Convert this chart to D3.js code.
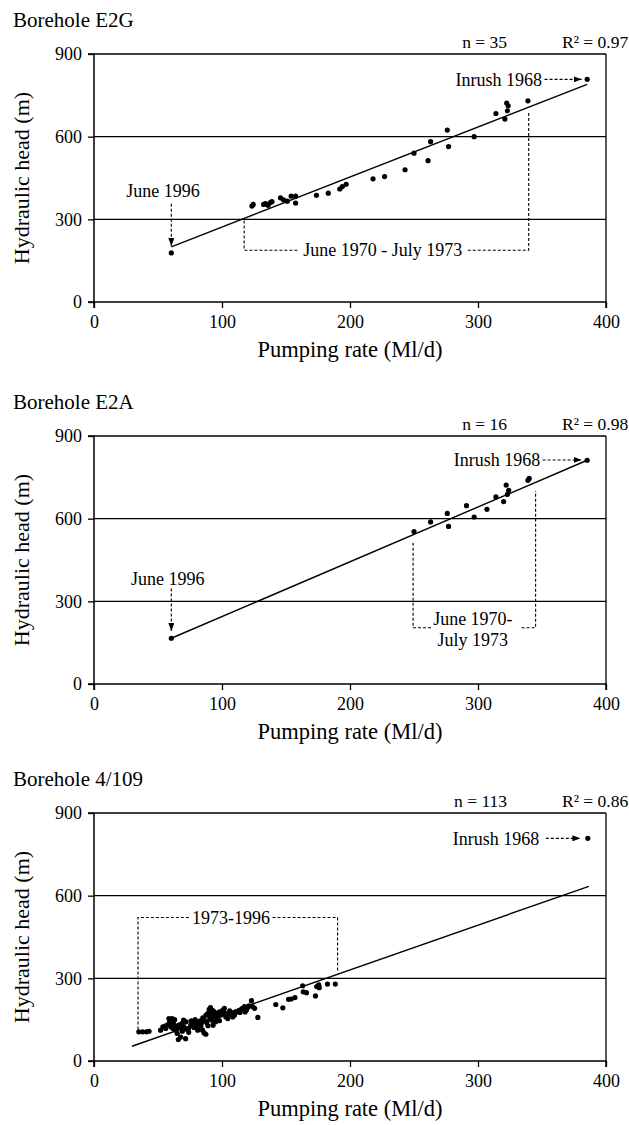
<!DOCTYPE html>
<html><head><meta charset="utf-8">
<script src="https://cdn.jsdelivr.net/npm/d3@7"></script>
<style>
body{margin:0;background:#fff}
svg{display:block}
text{font-family:"Liberation Serif","Times New Roman",serif;fill:#000}
</style>
</head><body><svg id="c" width="629" height="1125"></svg>
<script>
// ---------- data ----------
const xTicks = [0, 100, 200, 300, 400];
const yTicks = [0, 300, 600, 900];
const xTitle = "Pumping rate (Ml/d)";
const yTitle = "Hydraulic head (m)";
const panelTitles = ["Borehole E2G", "Borehole E2A", "Borehole 4/109"];
const nLabels = ["n = 35", "n = 16", "n = 113"];
const r2Labels = ["R\u00B2 = 0.97", "R\u00B2 = 0.98", "R\u00B2 = 0.86"];

const e2gX = [60.4,123.4,124.4,132.5,134,136,137.8,139,145.7,148,151,154,157.5,157.5,173.8,183,192,194,197,218,227,243,250,261,263,276,277,297,314,321,322.4,323.6,323,339,385.3];
const e2gY = [178,348,354,354,357,351,361,364,378,371,366,384,384,359,387,395,410,419,427,447,455,480,540,513,582,624,564,600,684,664,722,712,694,730,808];
const e2gFit = [[60.4,200],[385.3,790]];

const e2aX = [60.4,250,263,276,277,291,297,307,314,320,322,323,324,339,340,385.3];
const e2aY = [166,553,588,619,572,647,606,634,679,662,722,688,703,739,746,812];
const e2aFit = [[60.4,166],[385.3,812]];

const b4X = [35,38,41,43,
 52,53.8,55.4,58.5,61,63,60,61.7,63.8,65,65.9,67.7,68.5,70,72,71.6,73.8,75.6,77,79,80,82,83.5,84.8,86,87.4,85,87.4,88.7,90,91,92.6,90.6,92,94,95,93,95,96.6,98,99,100.5,101.8,103,104.5,105.8,107,108.4,109.7,111,113,115,116,117.6,119,120,123,124,125.5,
 56,57,59,62,64,66,67,69,70,72,74,76,78,80,81,83,84,86,88,89,90,91,92,94,96,97,98,100,102,106,110,114,118,121,
 128,142,147.5,152,154,157,163,163.5,166,173,174,175.6,176,182.4,188.5,
 385.8];
const b4Y = [106,106,106,108,
 112,124,126,154,154,150,124,118,126,100,78,87,136,148,142,81,118,130,136,150,142,136,124,112,102,97,157,166,172,187,194,184,154,148,160,166,130,142,172,178,166,184,191,160,154,170,175,160,166,178,182,187,191,197,184,194,219,197,191,
 118,130,140,138,112,130,120,108,126,116,104,146,122,128,112,146,138,150,140,128,164,176,170,178,150,160,146,170,176,182,172,176,178,200,
 158,205,193,224,225,230,273,251,248,236,270,276,266,279,279,
 808];
const b4Fit = [[29.7,53.4],[386.6,634]];

// annotations (data units)
const a1June = {text:"June 1996", tx:54, ty:405, arrow:[[60.4,357],[60.4,203]]};
const a1Inrush = {text:"Inrush 1968", tx:350, ty:808, arrow:[[352,808],[381,808]]};
const a1Bracket = {text:["June 1970 - July 1973"], tx:225.6, ty:188, left:[[117.3,296],[117.3,188],[159,188]], right:[[292,188],[339.6,188],[339.6,688]]};

const a2June = {text:"June 1996", tx:57.7, ty:383, arrow:[[60.4,347],[60.4,192]]};
const a2Inrush = {text:"Inrush 1968", tx:348.6, ty:813, arrow:[[350.5,813],[381,813]]};
const a2Bracket = {text:["June 1970-","July 1973"], tx:296, ty:[237,160], left:[[249.3,513],[249.3,204],[264,204]], right:[[334,204],[345,204],[345,700]]};

const a3Inrush = {text:"Inrush 1968", tx:347.8, ty:808, arrow:[[353,808],[380,808]]};
const a3Bracket = {text:["1973-1996"], tx:107, ty:521, left:[[34.4,114],[34.4,521],[75,521]], right:[[139.5,521],[190.3,521],[190.3,324]]};

// ---------- layout ----------
const svg = d3.select("#c");
const L = 94, R = 606, H = 248;
const tops = [54, 436, 813];

const defs = svg.append("defs");
defs.append("marker").attr("id","ah").attr("viewBox","0 0 8 6")
  .attr("refX",8).attr("refY",3).attr("markerWidth",8).attr("markerHeight",6)
  .attr("markerUnits","userSpaceOnUse").attr("orient","auto")
  .append("path").attr("d","M0,0L8,3L0,6Z").attr("fill","#000");

const panels = [
  {xs:e2gX, ys:e2gY, fit:e2gFit, june:a1June, inrush:a1Inrush, br:a1Bracket},
  {xs:e2aX, ys:e2aY, fit:e2aFit, june:a2June, inrush:a2Inrush, br:a2Bracket},
  {xs:b4X, ys:b4Y, fit:b4Fit, june:null, inrush:a3Inrush, br:a3Bracket}
];

panels.forEach((p, i) => {
  const top = tops[i], bot = top + H;
  const x = d3.scaleLinear().domain([0,400]).range([L,R]);
  const y = d3.scaleLinear().domain([0,900]).range([bot,top]);
  const g = svg.append("g");
  const line = d3.line().x(d=>x(d[0])).y(d=>y(d[1]));

  // title + stats
  g.append("text").attr("x",13).attr("y",top-27).attr("font-size",21).text(panelTitles[i]);
  g.append("text").attr("x",507).attr("y",top-6).attr("font-size",17.5).attr("text-anchor","end").text(nLabels[i]);
  g.append("text").attr("x",562).attr("y",top-6).attr("font-size",17.5).text(r2Labels[i]);

  // grid lines
  g.selectAll("line.grid").data(yTicks.filter(t=>t>0 && t<900)).join("line")
    .attr("x1",L).attr("x2",R).attr("y1",d=>y(d)).attr("y2",d=>y(d))
    .attr("stroke","#000").attr("stroke-width",1.3);
  // box top and right
  g.append("line").attr("x1",L).attr("x2",R).attr("y1",top).attr("y2",top).attr("stroke","#000").attr("stroke-width",1.3);
  g.append("line").attr("x1",R).attr("x2",R).attr("y1",top).attr("y2",bot).attr("stroke","#000").attr("stroke-width",1.3);

  // axes
  const ax = g.append("g").attr("transform",`translate(0,${bot})`)
    .call(d3.axisBottom(x).tickValues(xTicks).tickSize(6).tickPadding(7).tickFormat(d3.format("d")));
  const ay = g.append("g").attr("transform",`translate(${L},0)`)
    .call(d3.axisLeft(y).tickValues(yTicks).tickSize(6).tickPadding(6).tickFormat(d3.format("d")));
  [ax, ay].forEach(a => {
    a.select(".domain").attr("stroke","#000").attr("stroke-width",1.5);
    a.selectAll(".tick line").attr("stroke","#000").attr("stroke-width",1.3);
    a.selectAll(".tick text").attr("font-size",18).attr("font-family","Liberation Serif");
  });
  ax.select(".domain").attr("d",`M${L},6V0H${R}V6`);
  ay.select(".domain").attr("d",`M-6,${top}H0V${bot}H-6`);

  // axis titles
  g.append("text").attr("x",x(200)).attr("y",bot+55).attr("font-size",22.5)
    .attr("text-anchor","middle").text(xTitle);
  g.append("text").attr("transform",`translate(29,${(top+bot)/2}) rotate(-90)`)
    .attr("font-size",22).attr("text-anchor","middle").text(yTitle);

  // fit line
  g.append("path").attr("d",line(p.fit)).attr("fill","none").attr("stroke","#000").attr("stroke-width",1.4);

  // points
  g.selectAll("circle").data(p.xs.map((v,k)=>[v,p.ys[k]])).join("circle")
    .attr("cx",d=>x(d[0])).attr("cy",d=>y(d[1])).attr("r",2.6).attr("fill","#000");

  const dash = sel => sel.attr("fill","none").attr("stroke","#000").attr("stroke-width",1.1).attr("stroke-dasharray","3,2");

  if (p.june) {
    g.append("text").attr("x",x(p.june.tx)).attr("y",y(p.june.ty)).attr("dy","0.35em")
      .attr("font-size",18).attr("text-anchor","middle").text(p.june.text);
    g.append("path").attr("d",line(p.june.arrow)).call(dash).attr("marker-end","url(#ah)");
  }
  g.append("text").attr("x",x(p.inrush.tx)).attr("y",y(p.inrush.ty)).attr("dy","0.35em")
    .attr("font-size",18).attr("text-anchor","end").text(p.inrush.text);
  g.append("path").attr("d",line(p.inrush.arrow)).call(dash).attr("marker-end","url(#ah)");

  const br = p.br;
  g.append("path").attr("d",line(br.left)).call(dash);
  g.append("path").attr("d",line(br.right)).call(dash);
  br.text.forEach((t,k) => {
    const ty = Array.isArray(br.ty) ? br.ty[k] : br.ty;
    g.append("text").attr("x",x(br.tx)).attr("y",y(ty)).attr("dy","0.35em")
      .attr("font-size",18).attr("text-anchor","middle").text(t);
  });
});
</script>
</body></html>
